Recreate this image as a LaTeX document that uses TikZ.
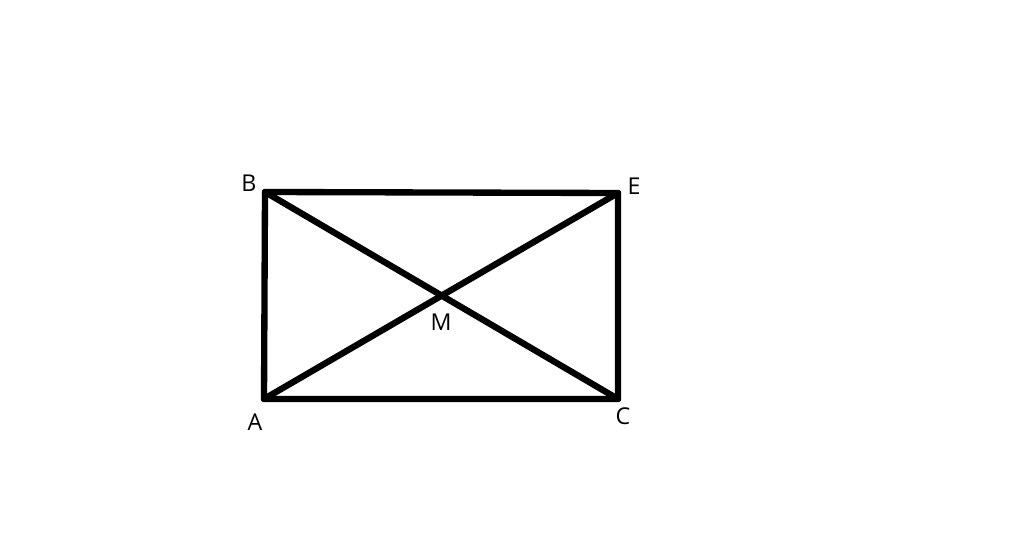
\documentclass[tikz,border=0pt]{standalone}
\usepackage{fontspec}
\setmainfont{Open Sans}
\usetikzlibrary{calc}

\begin{document}
\begin{tikzpicture}[x=0.025cm,y=-0.025cm]
\tikzset{seite/.style={line width=4.5pt, line cap=round, line join=round},
	punkt/.style={inner sep=0pt, font=\fontsize{16.5}{19}\selectfont}}
\useasboundingbox (0,0) rectangle (1024,536);

	\coordinate (A) at (264,399);
	\coordinate (B) at (265,192);
	\coordinate (C) at (618,399);
	\coordinate (E) at (618,193);
	\coordinate (M) at (intersection of A--E and B--C);

\draw[seite] (A) -- (B) -- (E) -- (C) -- cycle;
\draw[seite] (A) -- (E);
\draw[seite] (B) -- (C);

\node[punkt] (labB) at (249,183) {B};
\node[punkt] (labE) at (634,186) {E};
\node[punkt] (labA) at (255,422) {A};
\node[punkt] (labC) at (623,416) {C};
\node[punkt] (labM) at (441,322) {M};

\end{tikzpicture}
\end{document}
